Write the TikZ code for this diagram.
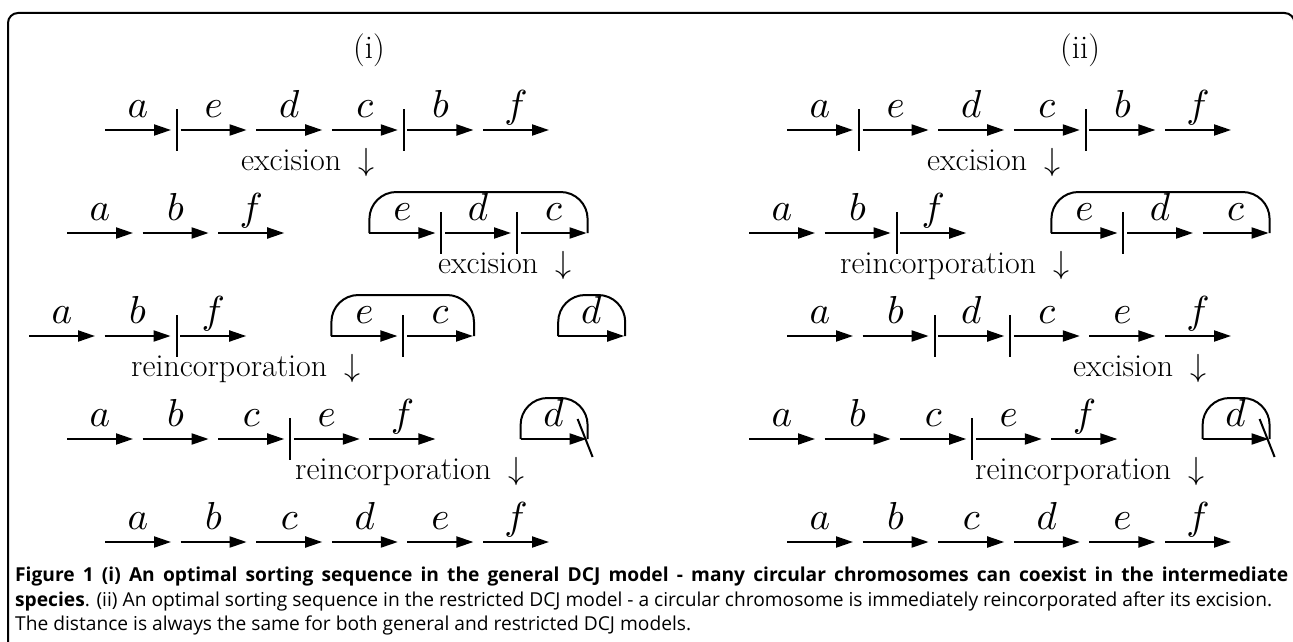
\documentclass[tikz,border=0pt]{standalone}
\usepackage{fontspec}
\DeclareFontShape{OML}{cmm}{m}{it}{<->s*cmmi10}{\skewchar\font'177}
\DeclareFontShape{OMS}{cmsy}{m}{n}{<->s*cmsy10}{\skewchar\font'60}
\newfontfamily\capfont{Open Sans}
\usetikzlibrary{arrows.meta}
\newlength\capw
\newcommand{\captwo}{\textbf{species}. (ii) An optimal sorting sequence in the restricted DCJ model - a circular chromosome is immediately reincorporated after its excision.}
\AtBeginDocument{%
  \settowidth\capw{\capfont\fontsize{10pt}{12pt}\selectfont\captwo}%
  \pgfmathsetmacro\capsz{10*1257/\capw}%
}
\newcommand{\mkgene}[5]{%
  \coordinate (#1s) at ({#2+#3*75.6},#4);
  \coordinate (#1e) at ({#2+#3*75.6+66},#4);
  \draw[genearrow] (#1s) -- (#1e);
  \node[genelab] (#1l) at ({#2+#3*75.6+33},{#4-13}) {$#5$};
}
\newcommand{\mkbar}[4]{%
  \coordinate (#1t) at ({#2+#3*75.6+72},{#4-21});
  \coordinate (#1b) at ({#2+#3*75.6+72},{#4+21});
  \draw[barline] (#1t) -- (#1b);
}
\newcommand{\mkcirc}[5]{%
  \coordinate (#1l) at ({#2+#3*75.6},#5);
  \coordinate (#1r) at ({#2+#4*75.6+67},#5);
  \draw[circline] (#1l) -- ++(0,-41) -| (#1r);
}
\newcommand{\mkslash}[4]{%
  \coordinate (#1t) at ({#2+#3*75.6+57},{#4-20});
  \coordinate (#1b) at ({#2+#3*75.6+72},{#4+18});
  \draw[barline] (#1t) -- (#1b);
}
\begin{document}
\begin{tikzpicture}[x=1pt,y=-1pt,
  genearrow/.style={line width=2pt,-{Triangle[length=17pt,width=11pt]}},
  barline/.style={line width=2pt},
  circline/.style={line width=2pt,rounded corners=27pt},
  genelab/.style={anchor=base,inner sep=0pt,font=\fontsize{39}{39}\selectfont},
  optext/.style={anchor=base west,inner sep=0pt,font=\fontsize{32}{32}\selectfont},
  titletext/.style={anchor=center,inner sep=0pt,font=\fontsize{33}{33}\selectfont},
  capline/.style={anchor=base west,inner sep=0pt,font=\capfont\fontsize{\capsz}{20}\selectfont},
  framestyle/.style={line width=2pt,rounded corners=10pt}]
\useasboundingbox (0,0) rectangle (1293,642);
\fill[white] (0,0) rectangle (1293,642);
\draw[framestyle] (8,660) -- (8,13) -- (1294.5,13) -- (1294.5,660);
\node[titletext] (ti) at (369,50) {(i)};
\node[titletext] (tii) at (1080,50) {(ii)};
% ===== panel (i) =====
% row 1
\mkgene{La1}{105}{0}{130}{a}
\mkbar{Lp1}{105}{0}{130}
\mkgene{Le1}{105}{1}{130}{e}
\mkgene{Ld1}{105}{2}{130}{d}
\mkgene{Lc1}{105}{3}{130}{c}
\mkbar{Lq1}{105}{3}{130}
\mkgene{Lb1}{105}{4}{130}{b}
\mkgene{Lf1}{105}{5}{130}{f}
\node[optext] (Lx1) at (241,170) {excision\hspace{.55em}$\downarrow$};
% row 2
\mkgene{La2}{67}{0}{233}{a}
\mkgene{Lb2}{67}{1}{233}{b}
\mkgene{Lf2}{67}{2}{233}{f}
\mkcirc{Lo2}{67}{4}{6}{233}
\mkgene{Le2}{67}{4}{233}{e}
\mkbar{Lp2}{67}{4}{233}
\mkgene{Ld2}{67}{5}{233}{d}
\mkbar{Lq2}{67}{5}{233}
\mkgene{Lc2}{67}{6}{233}{c}
\node[optext] (Lx2) at (438,273) {excision\hspace{.55em}$\downarrow$};
% row 3
\mkgene{La3}{29}{0}{336}{a}
\mkgene{Lb3}{29}{1}{336}{b}
\mkbar{Lp3}{29}{1}{336}
\mkgene{Lf3}{29}{2}{336}{f}
\mkcirc{Lo3}{29}{4}{5}{336}
\mkgene{Le3}{29}{4}{336}{e}
\mkbar{Lq3}{29}{4}{336}
\mkgene{Lc3}{29}{5}{336}{c}
\mkcirc{Lr3}{29}{7}{7}{336}
\mkgene{Ld3}{29}{7}{336}{d}
\node[optext] (Lx3) at (131,376) {reincorporation\hspace{.55em}$\downarrow$};
% row 4
\mkgene{La4}{67}{0}{439}{a}
\mkgene{Lb4}{67}{1}{439}{b}
\mkgene{Lc4}{67}{2}{439}{c}
\mkbar{Lp4}{67}{2}{439}
\mkgene{Le4}{67}{3}{439}{e}
\mkgene{Lf4}{67}{4}{439}{f}
\mkcirc{Lo4}{67}{6}{6}{439}
\mkgene{Ld4}{67}{6}{439}{d}
\mkslash{Ls4}{67}{6}{439}
\node[optext] (Lx4) at (295,479) {reincorporation\hspace{.55em}$\downarrow$};
% row 5
\mkgene{La5}{105}{0}{542}{a}
\mkgene{Lb5}{105}{1}{542}{b}
\mkgene{Lc5}{105}{2}{542}{c}
\mkgene{Ld5}{105}{3}{542}{d}
\mkgene{Le5}{105}{4}{542}{e}
\mkgene{Lf5}{105}{5}{542}{f}
% ===== panel (ii) =====
% row 1
\mkgene{Ra1}{787}{0}{130}{a}
\mkbar{Rp1}{787}{0}{130}
\mkgene{Re1}{787}{1}{130}{e}
\mkgene{Rd1}{787}{2}{130}{d}
\mkgene{Rc1}{787}{3}{130}{c}
\mkbar{Rq1}{787}{3}{130}
\mkgene{Rb1}{787}{4}{130}{b}
\mkgene{Rf1}{787}{5}{130}{f}
\node[optext] (Rx1) at (927,170) {excision\hspace{.55em}$\downarrow$};
% row 2
\mkgene{Ra2}{749}{0}{233}{a}
\mkgene{Rb2}{749}{1}{233}{b}
\mkbar{Rp2}{749}{1}{233}
\mkgene{Rf2}{749}{2}{233}{f}
\mkcirc{Ro2}{749}{4}{6}{233}
\mkgene{Re2}{749}{4}{233}{e}
\mkbar{Rq2}{749}{4}{233}
\mkgene{Rd2}{749}{5}{233}{d}
\mkgene{Rc2}{749}{6}{233}{c}
\node[optext] (Rx2) at (840,273) {reincorporation\hspace{.55em}$\downarrow$};
% row 3
\mkgene{Ra3}{787}{0}{336}{a}
\mkgene{Rb3}{787}{1}{336}{b}
\mkbar{Rp3}{787}{1}{336}
\mkgene{Rd3}{787}{2}{336}{d}
\mkbar{Rq3}{787}{2}{336}
\mkgene{Rc3}{787}{3}{336}{c}
\mkgene{Re3}{787}{4}{336}{e}
\mkgene{Rf3}{787}{5}{336}{f}
\node[optext] (Rx3) at (1073,376) {excision\hspace{.55em}$\downarrow$};
% row 4
\mkgene{Ra4}{749}{0}{439}{a}
\mkgene{Rb4}{749}{1}{439}{b}
\mkgene{Rc4}{749}{2}{439}{c}
\mkbar{Rp4}{749}{2}{439}
\mkgene{Re4}{749}{3}{439}{e}
\mkgene{Rf4}{749}{4}{439}{f}
\mkcirc{Ro4}{749}{6}{6}{439}
\mkgene{Rd4}{749}{6}{439}{d}
\mkslash{Rs4}{749}{6}{439}
\node[optext] (Rx4) at (975,479) {reincorporation\hspace{.55em}$\downarrow$};
% row 5
\mkgene{Ra5}{787}{0}{542}{a}
\mkgene{Rb5}{787}{1}{542}{b}
\mkgene{Rc5}{787}{2}{542}{c}
\mkgene{Rd5}{787}{3}{542}{d}
\mkgene{Re5}{787}{4}{542}{e}
\mkgene{Rf5}{787}{5}{542}{f}
% ===== caption =====
\node[capline] (cap1) at (15,581) {\bfseries\makebox[1273pt][s]{Figure 1 (i) An optimal sorting sequence in the general DCJ model - many circular chromosomes can coexist in the intermediate}};
\node[capline] (cap2) at (15,606) {\captwo};
\node[capline] (cap3) at (15,630) {The distance is always the same for both general and restricted DCJ models.};
\end{tikzpicture}
\end{document}
